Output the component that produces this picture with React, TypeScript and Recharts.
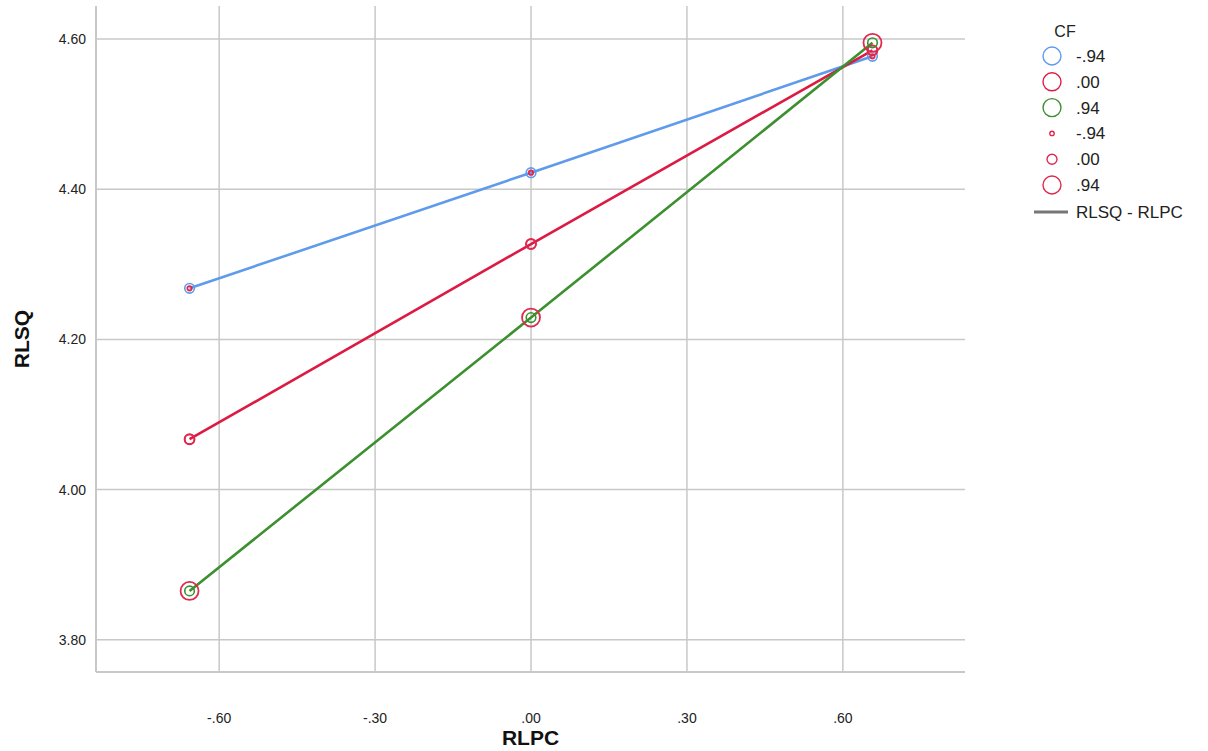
import React from 'react';
import { LineChart, Line, XAxis, YAxis, CartesianGrid } from 'recharts';

// moderator levels (CF) and predictor levels (RLPC)
const rlpcLevels = [-0.657, 0, 0.657];
const cfLabels = ['-.94', '.00', '.94'];

// predicted RLSQ at each RLPC level, one array per CF level
const rlsqLow = [4.268, 4.422, 4.577];
const rlsqMid = [4.067, 4.327, 4.585];
const rlsqHigh = [3.865, 4.229, 4.595];

const xTicks = [-0.6, -0.3, 0, 0.3, 0.6];
const yTicks = [3.8, 4.0, 4.2, 4.4, 4.6];

const COLORS = ['#5f9beb', '#dc1a44', '#3c902f'];
const SIZE_RED = '#e0294f';
const SIZE_R = [2.2, 5, 9]; // marker size ring per CF level
const FONT = '"Liberation Sans", Arial, sans-serif';

const series = [rlsqLow, rlsqMid, rlsqHigh].map((vals, i) => ({
  name: cfLabels[i],
  color: COLORS[i],
  sizeR: SIZE_R[i],
  data: rlpcLevels.map((x, j) => ({ rlpc: x, rlsq: vals[j] })),
}));

const fmt = (v: number) => {
  const s = v.toFixed(2);
  return s.replace(/^(-?)0\./, '$1.');
};

const makeDot = (color: string, sizeR: number) => (props: any) => {
  const { cx, cy, index } = props;
  if (cx == null || cy == null) return <g key={index} />;
  return (
    <g key={index}>
      <circle cx={cx} cy={cy} r={4.8} fill="none" stroke={color} strokeWidth={1.6} />
      <circle cx={cx} cy={cy} r={sizeR} fill="none" stroke={SIZE_RED} strokeWidth={1.8} />
    </g>
  );
};

const XTick = (props: any) => {
  const { x, y, payload } = props;
  return (
    <text x={x} y={y + 43} textAnchor="middle" fontFamily={FONT} fontSize={14} fill="#222">
      {fmt(payload.value)}
    </text>
  );
};

const YTick = (props: any) => {
  const { y, payload } = props;
  return (
    <text x={86} y={y + 5} textAnchor="end" fontFamily={FONT} fontSize={14} fill="#222">
      {fmt(payload.value)}
    </text>
  );
};

const CFLegend = () => {
  const rows = [
    ...series.map((s) => ({ label: s.name, stroke: s.color, r: 9 })),
    ...series.map((s) => ({ label: s.name, stroke: SIZE_RED, r: s.sizeR })),
  ];
  return (
    <svg width={178} height={215} style={{ position: 'absolute', left: 1030, top: 15 }}>
      <text x={35} y={22} textAnchor="middle" fontFamily={FONT} fontSize={16} fill="#222">CF</text>
      {rows.map((row, i) => (
        <g key={i}>
          <circle cx={22} cy={41 + i * 25.8} r={row.r} fill="none" stroke={row.stroke} strokeWidth={1.4} />
          <text x={46} y={47 + i * 25.8} fontFamily={FONT} fontSize={17} fill="#222">{row.label}</text>
        </g>
      ))}
      <line x1={4} x2={38} y1={197} y2={197} stroke="#777" strokeWidth={3} />
      <text x={46} y={203} fontFamily={FONT} fontSize={17} fill="#222">RLSQ - RLPC</text>
    </svg>
  );
};

export default function App() {
  return (
    <div style={{ position: 'absolute', left: 0, top: 0, width: 1208, height: 751, background: '#fff' }}>
      <LineChart width={1208} height={751} margin={{ top: 6, right: 243, bottom: 49, left: 0 }}>
        <CartesianGrid stroke="#c8c8c8" strokeWidth={1.5} horizontalValues={yTicks} verticalValues={xTicks} />
        <XAxis
          type="number"
          dataKey="rlpc"
          height={30}
          domain={[-0.837, 0.835]}
          ticks={xTicks}
          tick={<XTick />}
          tickLine={false}
          axisLine={{ stroke: '#c8c8c8', strokeWidth: 2 }}
          allowDataOverflow
          label={{ value: 'RLPC', position: 'bottom', offset: 28, style: { fontFamily: FONT, fontSize: 21, fontWeight: 'bold', fill: '#111' } }}
        />
        <YAxis
          type="number"
          dataKey="rlsq"
          width={96}
          domain={[3.757, 4.644]}
          ticks={yTicks}
          tick={<YTick />}
          tickLine={false}
          axisLine={{ stroke: '#c8c8c8', strokeWidth: 2 }}
          allowDataOverflow
          label={{ value: 'RLSQ', angle: -90, position: 'insideLeft', offset: 22, style: { fontFamily: FONT, fontSize: 21, fontWeight: 'bold', fill: '#111', textAnchor: 'middle' } }}
        />
        {series.map((s) => (
          <Line
            key={s.name}
            data={s.data}
            dataKey="rlsq"
            type="linear"
            stroke={s.color}
            strokeWidth={2.6}
            dot={makeDot(s.color, s.sizeR)}
            activeDot={false}
            isAnimationActive={false}
          />
        ))}
      </LineChart>
      <CFLegend />
    </div>
  );
}
